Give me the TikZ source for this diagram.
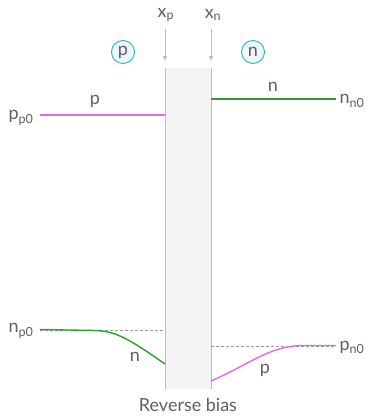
\documentclass[tikz,border=0pt]{standalone}
\usepackage{fontspec}
\setmainfont{Lato}
\usetikzlibrary{arrows.meta}
\definecolor{txt}{HTML}{606060}
\definecolor{magc}{HTML}{E86AD8}
\definecolor{grnc}{HTML}{2E9E2E}
\definecolor{tealc}{HTML}{2BB5B5}
\definecolor{cfill}{HTML}{EEF6FB}
\definecolor{boxfill}{HTML}{F4F4F4}
\definecolor{edgec}{HTML}{BBBBBB}
\tikzset{
  lbl/.style={text=txt, font=\fontsize{18}{21}\selectfont, inner sep=0pt},
  regc/.style={circle, draw=tealc, fill=cfill, line width=0.9pt, minimum size=23pt, inner sep=0pt, text=txt, font=\fontsize{18}{21}\selectfont},
  marker/.style={draw=edgec, line width=0.8pt, -{Triangle[length=5pt,width=3.5pt]}},
  dashln/.style={draw=gray!80, dashed, dash pattern=on 2.5pt off 2.5pt, line width=0.7pt},
  magl/.style={draw=magc, line width=1.4pt},
  grnl/.style={draw=grnc, line width=1.4pt}
}
\begin{document}
\begin{tikzpicture}[x=1pt,y=-1pt]
\useasboundingbox (0,0) rectangle (368,416);
% depletion region
\fill[boxfill] (165,68) rectangle (211,389);
\draw[edgec, line width=0.8pt] (165,68) -- (165,389);
\draw[edgec, line width=0.8pt] (211,68) -- (211,389);
% markers
\node[lbl] (xp) at (166,15) {x\textsubscript{p}};
\node[lbl] (xn) at (213,15) {x\textsubscript{n}};
\coordinate (xpe) at (165,61);
\coordinate (xne) at (211,61);
\draw[marker] (165,29) -- (xpe);
\draw[marker] (211,29) -- (xne);
% region circles
\node[regc] (cp) at (123,52) {p};
\node[regc] (cn) at (253,52) {n};
% majority lines
\coordinate (pa) at (40,115);
\coordinate (pb) at (165,115);
\draw[magl] (pa) -- (pb);
\node[lbl] (plab) at (95,101) {p};
\node[lbl] (pp0) at (21,118) {p\textsubscript{p0}};
\coordinate (na) at (211,99);
\coordinate (nb) at (336,99);
\draw[grnl] (na) -- (nb);
\node[lbl] (nlab) at (273,87) {n};
\node[lbl] (nn0) at (352,101) {n\textsubscript{n0}};
% minority left
\coordinate (d1a) at (40,330);
\coordinate (d1b) at (165,330);
\draw[dashln] (d1a) -- (d1b);
\coordinate (g1) at (40,329.5);
\coordinate (g2) at (165,364);
\draw[grnl] (g1) -- (95,330.5) .. controls (115,331.5) and (125,336) .. (g2);
\node[lbl] (nlow) at (135,357) {n};
\node[lbl] (np0) at (21,331) {n\textsubscript{p0}};
% minority right
\coordinate (d2a) at (211,346);
\coordinate (d2b) at (336,346);
\draw[dashln] (d2a) -- (d2b);
\coordinate (m1) at (211,381);
\coordinate (m2) at (336,345.5);
\draw[magl] (m1) .. controls (250,364) and (268,347) .. (300,345.5) -- (m2);
\node[lbl] (plow) at (265,370) {p};
\node[lbl] (pn0) at (352,347) {p\textsubscript{n0}};
% caption
\node[lbl] (cap) at (188,405) {Reverse bias};
\end{tikzpicture}
\end{document}
